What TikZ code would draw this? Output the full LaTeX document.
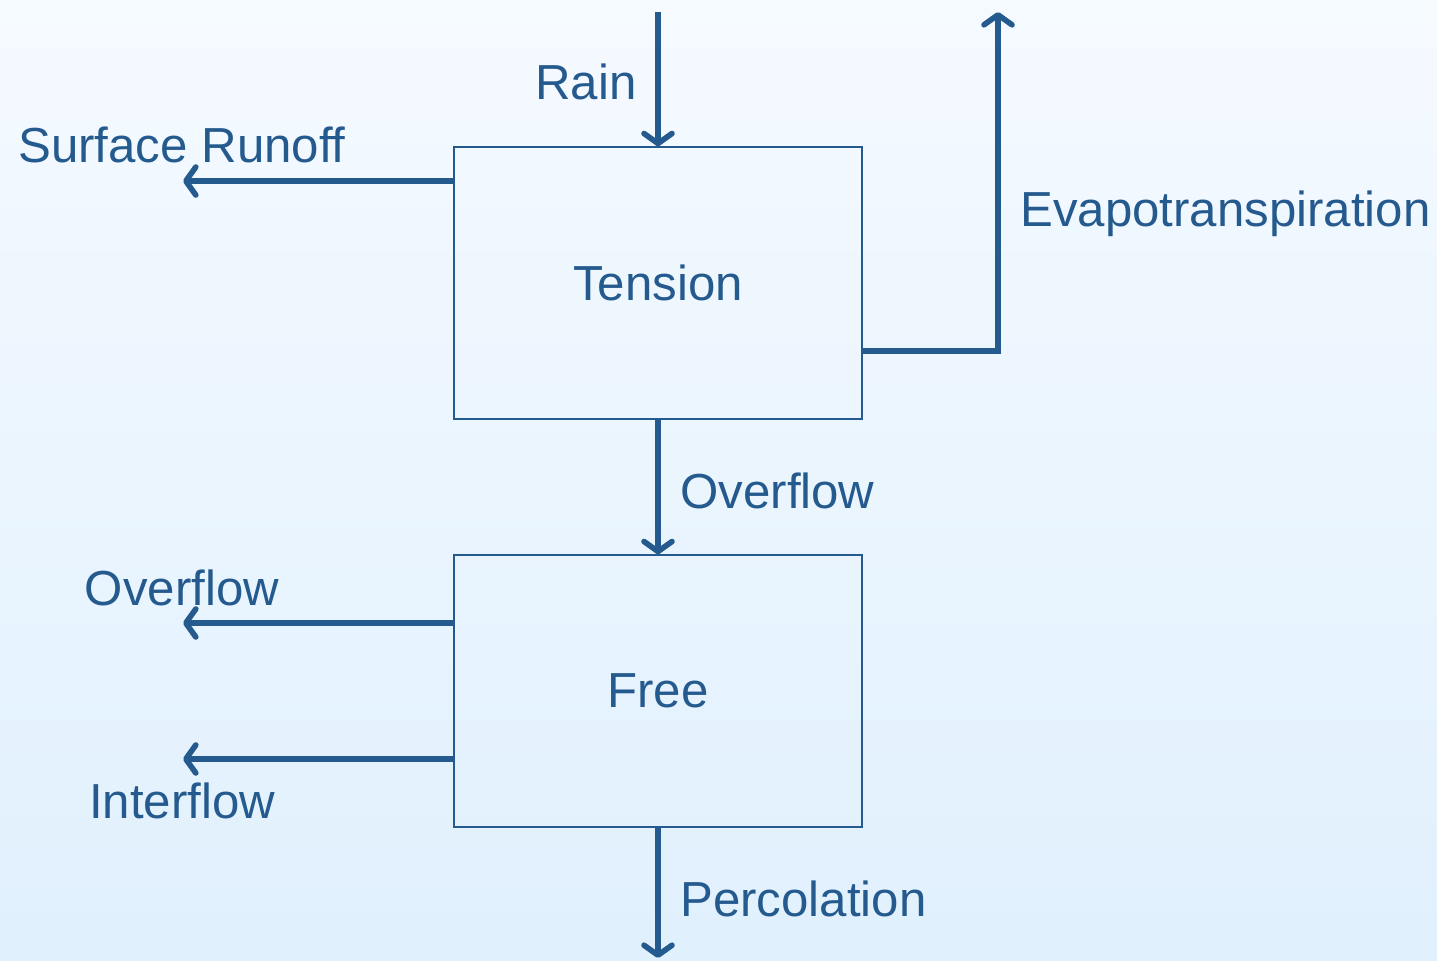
\documentclass[tikz,border=0pt]{standalone}
\usepackage{fontspec}
\setmainfont{Liberation Sans}
\usetikzlibrary{arrows.meta}
\definecolor{ink}{HTML}{255A8E}
\definecolor{bgtop}{HTML}{F5FAFF}
\definecolor{bgbot}{HTML}{E0F0FD}
\begin{document}
\begin{tikzpicture}[x=0.5pt,y=-0.5pt,
  store/.style={draw=ink,line width=0.7pt,minimum width=204pt,minimum height=136pt,inner sep=0pt,text=ink},
  flow/.style={draw=ink,line width=2.8pt,-{Straight Barb[length=5pt,width=14pt,round]}},
  lbl/.style={text=ink,inner sep=0pt},
  every node/.style={font=\fontsize{24.6pt}{28pt}\selectfont}]
\shade[top color=bgtop,bottom color=bgbot] (0,0) rectangle (1437,960);
\useasboundingbox (0,0) rectangle (1437,960);
\node[store] (tension) at (658,283) {Tension};
\node[store] (free) at (658,691) {Free};
\coordinate (rainin) at (658,12);
\coordinate (evapout) at (998,12);
\coordinate (evapcorner) at (998,351);
\coordinate (srout) at (183,181);
\coordinate (ofout) at (183,623);
\coordinate (ifout) at (183,759);
\coordinate (percout) at (658,958);
\draw[flow] (rainin) -- (tension.north);
\draw[flow] (tension.west |- srout) -- (srout);
\draw[flow] (tension.east |- evapcorner) -- (evapcorner) -- (evapout);
\draw[flow] (tension.south) -- (free.north);
\draw[flow] (free.west |- ofout) -- (ofout);
\draw[flow] (free.west |- ifout) -- (ifout);
\draw[flow] (free.south) -- (percout);
\node[lbl,anchor=east] (lrain) at (637,82) {Rain};
\node[lbl] (lsr) at (182,145) {Surface Runoff};
\node[lbl,anchor=west] (levap) at (1020,214) {Evapotranspiration};
\node[lbl,anchor=west] (lof1) at (680,491) {Overflow};
\node[lbl] (lof2) at (182,588) {Overflow};
\node[lbl] (lif) at (182,801) {Interflow};
\node[lbl,anchor=west] (lperc) at (680,899) {Percolation};
\end{tikzpicture}
\end{document}
